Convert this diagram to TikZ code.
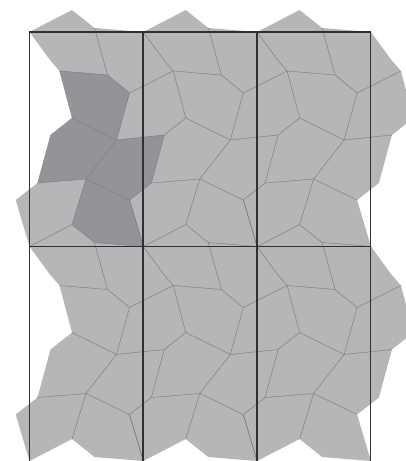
\documentclass[tikz,border=0pt]{standalone}
\usepackage{tikz}
\definecolor{TileLight}{RGB}{182, 182, 184}
\definecolor{TileDark}{RGB}{148, 148, 152}
\definecolor{SeamGray}{RGB}{128, 128, 130}
\definecolor{RuleGray}{RGB}{48, 48, 50}

\tikzset{
  lighttile/.style={fill=TileLight},
  darktile/.style={fill=TileDark},
  seam/.style={draw=SeamGray, line width=0.55pt},
  cellrule/.style={draw=RuleGray, line width=1.1pt},
  boldrule/.style={draw=RuleGray, line width=1.9pt}
}

% one period of the tiling, the points of the neighbours included
\newcommand{\cellpoints}{
  \coordinate (T) at (29.5,32);
  \coordinate (A) at (72,10);
  \coordinate (B) at (94.5,28);
  \coordinate (U) at (50,60);
  \coordinate (D) at (59.5,71);
  \coordinate (E) at (107.5,75);
  \coordinate (F) at (129.5,93);
  \coordinate (G) at (72,118);
  \coordinate (H) at (116.5,140);
  \coordinate (I) at (50.5,135);
  \coordinate (J) at (37.5,183);
  \coordinate (K) at (86,179);
  \coordinate (L) at (129.5,200);
  \coordinate (Tr) at (143.3,32);
  \coordinate (Ur) at (163.8,60);
  \coordinate (Dr) at (173.3,71);
  \coordinate (Gr) at (185.8,118);
  \coordinate (Ir) at (164.3,135);
  \coordinate (Jr) at (151.3,183);
  \coordinate (Lm) at (15.7,200);
  \coordinate (Ab) at (72,224.5);
  \coordinate (Bb) at (94.5,242.5);
  \coordinate (Tb) at (29.5,246.5);
  \coordinate (Tc) at (143.3,246.5);
}

\begin{document}
\begin{tikzpicture}[x=1pt, y=-1pt]
  \useasboundingbox (0,0) rectangle (406,461);
  \clip (0,0) rectangle (406,461);
  % tiles
  \foreach \col in {0,1,2} \foreach \row in {0,1} {
    \begin{scope}[shift={(\col*113.8,\row*214.5)}]
      \cellpoints
      \fill[lighttile] (T) -- (U) -- (D) -- (E) -- (B) -- (A) -- cycle;
      \fill[lighttile] (B) -- (Tr) -- (Ur) -- (Dr) -- (F) -- (E) -- cycle;
      \fill[lighttile] (F) -- (Dr) -- (Gr) -- (Ir) -- (H) -- cycle;
      \fill[lighttile] (D) -- (E) -- (F) -- (H) -- (G) -- cycle;
      \fill[lighttile] (G) -- (H) -- (K) -- (J) -- (I) -- cycle;
      \fill[lighttile] (H) -- (Ir) -- (Jr) -- (L) -- (K) -- cycle;
      \fill[lighttile] (K) -- (L) -- (Tc) -- (Bb) -- (Ab) -- cycle;
      \fill[lighttile] (J) -- (K) -- (Ab) -- (Tb) -- (Lm) -- cycle;
    \end{scope}
  }
  % the four shaded tiles
  \cellpoints
  \fill[darktile] (D) -- (E) -- (F) -- (H) -- (G) -- cycle;
  \fill[darktile] (G) -- (H) -- (K) -- (J) -- (I) -- cycle;
  \fill[darktile] (H) -- (Ir) -- (Jr) -- (L) -- (K) -- cycle;
  \fill[darktile] (K) -- (L) -- (Tc) -- (Bb) -- (Ab) -- cycle;
  % seams
  \foreach \col in {0,1,2} \foreach \row in {0,1} {
    \begin{scope}[shift={(\col*113.8,\row*214.5)}]
      \cellpoints
      \draw[seam] (D) -- (E) -- (F) -- (H) -- (G);
      \draw[seam] (B) -- (E);
      \draw[seam] (F) -- (Dr);
      \draw[seam] (Ir) -- (H) -- (K) -- (L);
      \draw[seam] (J) -- (K) -- (Ab);
      \ifnum\col>0
        \draw[seam] (T) -- (U) -- (D) -- (G) -- (I) -- (J) -- (Lm) -- (Tb);
      \fi
      \ifnum\col<2
        \draw[seam] (L) -- (Tc);
      \fi
      \ifnum\row=0
        \draw[seam] (Tb) -- (Ab) -- (Bb) -- (Tc);
      \fi
    \end{scope}
  }
  % cell frames
  \draw[cellrule] (29.5,461) -- (29.5,32) -- (370.8,32) -- (370.8,461);
  \draw[boldrule] (29.5,246.5) -- (370.8,246.5);
  \foreach \col in {143.3,257} {
    \draw[boldrule] (\col,32) -- (\col,461);
  }
\end{tikzpicture}
\end{document}
